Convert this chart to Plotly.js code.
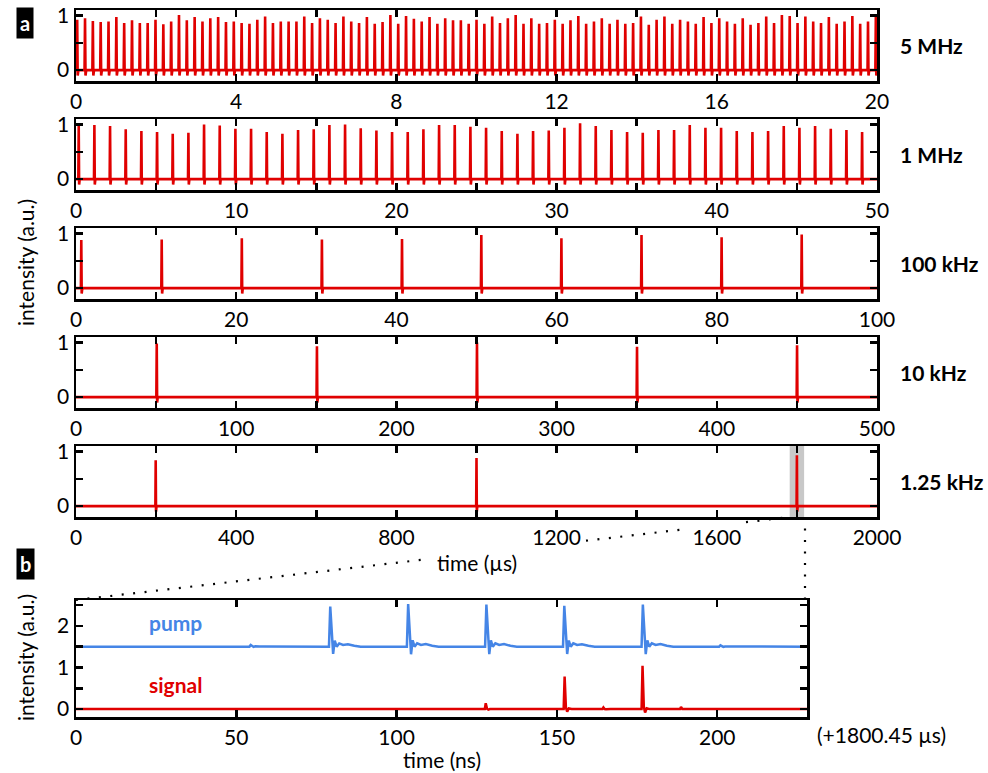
<!DOCTYPE html>
<html><head><meta charset="utf-8">
<script src="https://cdn.plot.ly/plotly-3.0.1.min.js"></script>
<style>html,body{margin:0;padding:0;background:#fff}#plot{width:988px;height:773px}</style>
</head><body><div id="plot"></div>
<script>
// ---------------- data ----------------
// 5 MHz panel: pulse peak heights (a.u.), first pulse time and repetition period (µs)
const t0_5MHz = 0.03, period_5MHz = 0.1955;
const peaks_5MHz = [0.92,0.95,0.90,0.88,0.89,0.97,0.86,0.91,0.86,0.86,0.92,0.84,0.89,1.01,0.91,0.97,0.89,0.95,0.97,0.88,0.89,0.86,0.85,0.92,0.98,0.86,0.89,0.89,0.89,0.98,0.86,0.95,0.92,0.86,
  0.98,0.89,0.86,0.97,0.85,0.88,1.01,0.85,0.99,0.94,0.89,0.97,0.85,0.95,0.91,0.91,0.85,0.92,0.85,0.98,0.86,0.95,1.01,0.85,0.95,0.85,0.86,0.92,0.85,0.91,0.99,0.85,0.89,0.95,0.85,
  0.92,0.85,0.86,0.98,0.83,0.92,0.98,0.85,0.92,0.89,0.85,0.97,0.86,0.95,0.89,0.85,0.95,0.83,0.86,0.98,0.86,1.01,0.99,0.86,0.98,0.89,0.86,0.97,0.85,0.89,0.99,0.85,0.89,1.00];
// 1 MHz panel
const t0_1MHz = 0.17, period_1MHz = 0.978;
const peaks_1MHz = [0.97,0.99,0.97,0.91,0.88,0.86,0.83,0.85,1.00,0.98,0.92,0.92,0.86,0.83,0.90,0.91,0.99,1.00,0.93,0.89,0.86,0.86,0.91,0.99,0.99,0.96,0.94,
  0.88,0.83,0.88,0.89,0.94,1.02,0.97,0.90,0.86,0.85,0.90,0.90,0.99,0.94,0.94,0.88,0.86,0.88,0.97,0.94,0.97,0.92,0.90,0.86];
// 100 kHz, 10 kHz, 1.25 kHz panels: pulse times (µs) and peaks
const times_100kHz = [0.66,10.7,20.7,30.7,40.7,50.6,60.6,70.6,80.6,90.6];
const peaks_100kHz = [0.88,0.89,0.91,0.89,0.90,0.97,0.91,0.97,0.93,0.98];
const times_10kHz = [50.4,150.4,250.3,350.2,450.1];
const peaks_10kHz = [0.98,0.93,1.00,0.92,0.95];
const times_1p25kHz = [199,1000,1800];
const peaks_1p25kHz = [0.84,0.88,0.93];
const zoomWindow = [1782,1818]; // grey band (µs)

// panel b (ns after 1800.45 µs)
const pumpTimes = [54.5,79.3,103.6,128.0,152.3,176.8,201.0];
const pumpPeaks = [1.54,2.46,2.52,2.51,2.48,2.51,1.53];
const pumpBase = 1.5;
const signalTimes = [127.8,152.4,164.5,176.7,188.7];
const signalPeaks = [0.14,0.78,0.04,1.04,0.05];
const signalBase = 0;

// tick values / labels
const xt5M = [0,2,4,6,8,10,12,14,16,18,20], xl5M = ['0','','4','','8','','12','','16','','20'];
const xt1M = [0,5,10,15,20,25,30,35,40,45,50], xl1M = ['0','','10','','20','','30','','40','','50'];
const xt100k = [0,10,20,30,40,50,60,70,80,90,100], xl100k = ['0','','20','','40','','60','','80','','100'];
const xt10k = [0,50,100,150,200,250,300,350,400,450,500], xl10k = ['0','','100','','200','','300','','400','','500'];
const xt1k = [0,200,400,600,800,1000,1200,1400,1600,1800,2000], xl1k = ['0','','400','','800','','1200','','1600','','2000'];
const ytA = [0,0.5,1], ylA = ['0','','1'];
const xtB = [0,50,100,150,200], xlB = ['0','50','100','150','200'];
const ytB = [0,0.5,1,1.5,2,2.5], ylB = ['0','','1','','2',''];
const freqLabels = ['5 MHz','1 MHz','100 kHz','10 kHz','1.25 kHz'];

// ---------------- build traces ----------------
const RED = '#e00000', BLUE = '#4585e6';
function train(times, peaks, w, xmin, xmax){
  const x=[xmin], y=[0];
  times.forEach((t,i)=>{ x.push(t-w,t,t+w,t+2.5*w); y.push(0,peaks[i],-0.1,0); });
  x.push(xmax); y.push(0);
  return {x,y};
}
function periodicTimes(t0, p, n){ const a=[]; for(let k=0;k<n;k++) a.push(t0+k*p); return a; }
function ringing(times, peaks, base, tmpl, xmin, xmax){
  const x=[xmin], y=[base];
  times.forEach((t,i)=>{ const a=peaks[i]-base;
    tmpl.forEach(([dt,f])=>{ x.push(t+dt); y.push(base+f*a); }); });
  x.push(xmax); y.push(base);
  return {x,y};
}
const pumpTmpl = [[-0.4,0],[0,1],[0.5,0.3],[0.9,-0.18],[1.4,0.15],[2.0,0.0],[2.8,0.08],[4.0,0.04],[5.5,0.06],[7.5,0.02],[9.5,0]];
const sigTmpl = [[-0.3,0],[0,1],[0.4,0.05],[0.8,-0.08],[1.3,0.02],[2.2,0]];

const panels = [
  train(periodicTimes(t0_5MHz,period_5MHz,peaks_5MHz.length), peaks_5MHz, 0.012, 0, 20),
  train(periodicTimes(t0_1MHz,period_1MHz,peaks_1MHz.length), peaks_1MHz, 0.025, 0, 50),
  train(times_100kHz, peaks_100kHz, 0.05, 0, 100),
  train(times_10kHz, peaks_10kHz, 0.25, 0, 500),
  train(times_1p25kHz, peaks_1p25kHz, 0.8, 0, 2000)
];
const traces = panels.map((p,i)=>({x:p.x,y:p.y,type:'scatter',mode:'lines',
  line:{color:RED,width:2.6},xaxis:i?'x'+(i+1):'x',yaxis:i?'y'+(i+1):'y',hoverinfo:'skip'}));
const pump = ringing(pumpTimes,pumpPeaks,pumpBase,pumpTmpl,0,228);
const sig = ringing(signalTimes,signalPeaks,signalBase,sigTmpl,0,228);
traces.push({x:pump.x,y:pump.y,type:'scatter',mode:'lines',line:{color:BLUE,width:2.5},xaxis:'x6',yaxis:'y6'});
traces.push({x:sig.x,y:sig.y,type:'scatter',mode:'lines',line:{color:RED,width:2.5},xaxis:'x6',yaxis:'y6'});

// ---------------- layout ----------------
const W=988,H=773;
const px=v=>v/W, py=v=>1-v/H;
const FONT='Lato, "Open Sans", sans-serif';
function ax(dom, tv, tt, range, anchor){
  return {domain:dom, range:range, tickvals:tv, ticktext:tt, ticks:'inside', ticklen:7, tickwidth:2.5,
    tickcolor:'#000', showline:true, linecolor:'#000', linewidth:2.5, mirror:'ticks', showgrid:false,
    zeroline:false, anchor:anchor, fixedrange:true, tickfont:{family:FONT,size:21,color:'#000'}, ticklabelstandoff:0};
}
const xDom=[px(76),px(877)];
const yDoms=[[py(81),py(10)],[py(190),py(119)],[py(299),py(228)],[py(408),py(337)],[py(517),py(446)]];
const xs=[[xt5M,xl5M,[0,20]],[xt1M,xl1M,[0,50]],[xt100k,xl100k,[0,100]],[xt10k,xl10k,[0,500]],[xt1k,xl1k,[0,2000]]];
const layout={width:W,height:H,margin:{l:0,r:0,t:0,b:0},paper_bgcolor:'#fff',plot_bgcolor:'#fff',
  showlegend:false,font:{family:FONT,size:21,color:'#000'},annotations:[],shapes:[]};
for(let i=0;i<5;i++){
  const n=i?String(i+1):'';
  layout['xaxis'+n]=ax(xDom,xs[i][0],xs[i][1],xs[i][2],'y'+n);
  layout['yaxis'+n]=ax(yDoms[i],ytA,ylA,[-0.2,1.1],'x'+n);
  layout.annotations.push({xref:'paper',yref:'paper',x:px(898),y:(yDoms[i][0]+yDoms[i][1])/2,xanchor:'left',yanchor:'middle',
    text:'<b>'+freqLabels[i]+'</b>',showarrow:false,font:{family:FONT,size:21,color:'#000'}});
}
layout.xaxis6=ax([px(76),px(807)],xtB,xlB,[0,228],'y6');
layout.yaxis6=ax([py(717),py(600)],ytB,ylB,[-0.19,2.62],'x6');

// grey band marking the zoomed window
layout.shapes.push({type:'rect',xref:'x5',yref:'y5',x0:zoomWindow[0],x1:zoomWindow[1],y0:-0.2,y1:1.1,
  fillcolor:'#c8c8c8',line:{width:0},layer:'below'});
// dotted connector lines (paper coordinates)
const dot={color:'#000',width:2.2,dash:'2px,9.5px'};
const slant=x=>600-(x-76)*(83/714);
[[76,425],[586,682],[746,790]].forEach(([a,b])=>layout.shapes.push({type:'line',xref:'paper',yref:'paper',
  x0:px(a),y0:py(slant(a)),x1:px(b),y1:py(slant(b)),line:dot}));
layout.shapes.push({type:'line',xref:'paper',yref:'paper',x0:px(805),y0:py(517),x1:px(805),y1:py(600),line:dot});

const A=(o)=>layout.annotations.push(Object.assign({xref:'paper',yref:'paper',showarrow:false},o));
A({x:px(25),y:py(23.5),text:'<b>a</b>',font:{family:FONT,size:20,color:'#fff'},bgcolor:'#000',borderpad:3,xanchor:'center',yanchor:'middle'});
A({x:px(25),y:py(564),text:'<b>b</b>',font:{family:FONT,size:20,color:'#fff'},bgcolor:'#000',borderpad:3,xanchor:'center',yanchor:'middle'});
A({x:px(25),y:py(263),text:'intensity (a.u.)',textangle:-90,font:{family:FONT,size:21},xanchor:'center',yanchor:'middle'});
A({x:px(25),y:py(658),text:'intensity (a.u.)',textangle:-90,font:{family:FONT,size:21},xanchor:'center',yanchor:'middle'});
A({x:px(477),y:py(562),text:'time (µs)',font:{family:FONT,size:21},xanchor:'center',yanchor:'middle'});
A({x:px(441.5),y:py(759),text:'time (ns)',font:{family:FONT,size:21},xanchor:'center',yanchor:'middle'});
A({x:px(815),y:py(734),text:'(+1800.45 µs)',font:{family:FONT,size:21},xanchor:'left',yanchor:'middle'});
A({x:px(147),y:py(622),text:'<b>pump</b>',font:{family:FONT,size:21,color:BLUE},xanchor:'left',yanchor:'middle'});
A({x:px(147),y:py(684),text:'<b>signal</b>',font:{family:FONT,size:21,color:RED},xanchor:'left',yanchor:'middle'});

Plotly.newPlot('plot',traces,layout,{staticPlot:true,displayModeBar:false});
</script></body></html>
